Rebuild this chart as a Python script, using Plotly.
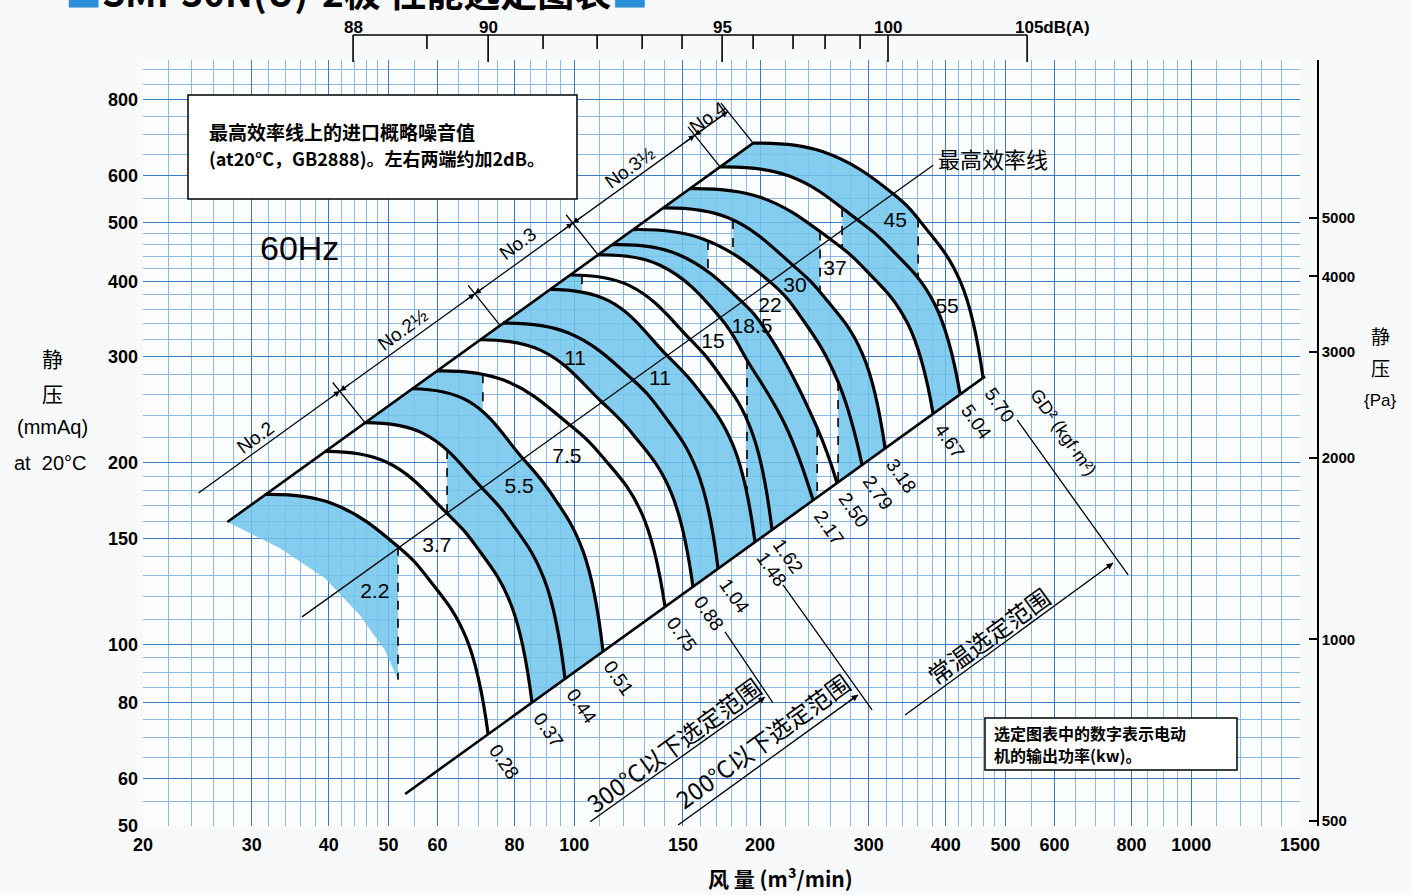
import math
import plotly.graph_objects as go

# ---------------- axes ----------------
X_TICKS = [20, 30, 40, 50, 60, 80, 100, 150, 200, 300, 400, 500, 600, 800, 1000, 1500]
Y_TICKS = [50, 60, 80, 100, 150, 200, 300, 400, 500, 600, 800]
PA_TICKS = [500, 1000, 2000, 3000, 4000, 5000]
X_MIN, X_MAX = 20, 1500
Y_MIN, Y_MAX = 50, 931.6
PA_PER_MMAQ = 9.80665
X_GRID = [20, 22, 24, 26, 28, 30, 32, 34, 36, 38, 40, 42, 44, 46, 48,
          50, 55, 60, 65, 70, 75, 80, 85, 90, 95,
          100, 110, 120, 130, 140, 150, 160, 170, 180, 190,
          200, 220, 240, 260, 280, 300, 320, 340, 360, 380, 400, 420, 440, 460, 480,
          500, 550, 600, 650, 700, 750, 800, 850, 900, 950,
          1000, 1100, 1200, 1300, 1400, 1500]
Y_GRID = [50, 55, 60, 65, 70, 75, 80, 85, 90, 95,
          100, 110, 120, 130, 140, 150, 160, 170, 180, 190,
          200, 220, 240, 260, 280, 300, 320, 340, 360, 380, 400, 420, 440, 460, 480,
          500, 550, 600, 650, 700, 750, 800, 850, 900]

# top noise scale (dB(A)) placed against flow
DB_VALUES = [88, 89, 90, 91, 92, 93, 94, 95, 96, 97, 98, 99, 100, 105]
DB_FLOW = [43.8, 57.7, 72.5, 89.0, 108.9, 128.8, 149.5, 173.6, 194.9, 226.2, 254.9, 290.5, 322.4, 541.8]
DB_MAJOR = [88, 90, 95, 100, 105]
DB_TEXT = ["88", "90", "95", "100", "105dB(A)"]

# ---------------- fan curves (flow m3/min, static pressure mmAq) ----------------
ARC_GD2 = ["0.28", "0.37", "0.44", "0.51", "0.75", "0.88", "1.04", "1.48",
           "1.62", "2.17", "2.50", "2.79", "3.18", "4.67", "5.04", "5.70"]
ARC_Q = [
    [31.5, 40.5, 52.0, 58.4, 66.7, 72.5],
    [39.4, 49.5, 62.2, 69.5, 78.9, 85.4],
    [45.8, 57.0, 70.9, 79.0, 89.4, 96.6],
    [54.6, 67.1, 82.6, 91.7, 103.3, 111.3],
    [59.9, 76.8, 98.4, 111.4, 128.4, 140.3],
    [70.3, 88.3, 110.9, 124.9, 143.1, 155.7],
    [76.6, 97.7, 124.5, 139.2, 158.0, 171.0],
    [91.3, 113.6, 141.4, 158.6, 180.8, 196.3],
    [98.4, 123.1, 154.0, 171.5, 193.7, 209.1],
    [109.3, 137.7, 172.3, 191.3, 219.7, 243.8],
    [115.1, 146.7, 187.0, 207.6, 247.5, 266.6],
    [124.5, 160.8, 207.6, 234.8, 267.6, 292.7],
    [139.3, 177.5, 226.2, 255.1, 292.7, 318.9],
    [154.0, 200.0, 259.7, 297.1, 346.5, 381.5],
    [172.3, 222.5, 287.3, 328.6, 383.3, 422.0],
    [194.9, 253.0, 328.6, 369.6, 422.7, 459.7],
]
ARC_P = [
    [177.3, 171.3, 144.8, 127.4, 102.9, 71.0],
    [209.1, 200.9, 165.0, 145.0, 116.7, 80.1],
    [233.3, 223.7, 181.7, 159.4, 128.2, 87.7],
    [265.5, 253.7, 203.2, 178.0, 142.8, 97.4],
    [284.3, 274.5, 231.1, 204.0, 165.6, 115.4],
    [320.1, 307.4, 252.2, 222.2, 179.9, 124.7],
    [341.1, 328.7, 274.5, 241.2, 194.4, 133.6],
    [388.1, 371.6, 301.3, 265.1, 214.0, 147.9],
    [409.9, 393.3, 320.8, 281.4, 226.2, 154.9],
    [442.8, 425.5, 348.6, 294.1, 231.2, 173.5],
    [460.1, 444.2, 369.8, 323.6, 228.6, 185.3],
    [487.6, 471.3, 399.3, 345.2, 272.5, 198.4],
    [529.5, 510.0, 425.3, 375.0, 304.2, 211.4],
    [570.1, 551.8, 470.4, 417.1, 341.5, 241.3],
    [619.3, 598.6, 506.5, 449.1, 367.7, 259.8],
    [678.2, 656.4, 559.0, 492.6, 399.0, 276.8],
]

# motor limit (dashed) lines: flow position, curve at the top end, curve at the bottom end
DASH_Q = [51.8, 62.2, 71.1, 102.9, 164.7, 180.8, 190.5, 247.5, 267.6, 250.2, 271.6, 360.7]
DASH_TOP_ARC = [1, 3, 5, 9, 12, 13, 10, 11, 12, 14, 15, 16]
DASH_BOT_ARC = [0, 2, 4, 8, 11, 12, 8, 10, 11, 13, 14, 15]

# 2.2 kW region: lower-left edge, from the dashed limit back to the envelope
B22_EDGE_Q = [51.8, 49.3, 44.9, 39.4, 33.3, 27.4]
B22_EDGE_P = [87.4, 97.9, 111.9, 128.9, 144.6, 159.6]

# blue motor zones: band between curves (a, b), bounded left/right by dashed line index
ZONE_BANDS = [(2, 3), (3, 4), (4, 5), (6, 7), (7, 8), (8, 9), (8, 9), (9, 10), (10, 11),
              (11, 12), (11, 12), (12, 13), (13, 14), (14, 15), (15, 16)]
ZONE_LEFT = [1, None, None, None, None, None, 6, 6, None, None, 8, 5, None, 10, None]
ZONE_RIGHT = [None, None, 2, None, None, 3, None, None, 7, 4, None, None, 9, None, 11]
ZONE_KW = ["5.5", "5.5", "5.5", "11", "11", "11", "18.5", "18.5", "18.5", "18.5",
           "30", "30", "30", "45", "45"]

# envelope lines
UPPER_Q = [27.4, 194.9]
UPPER_P = [159.6, 678.2]
LOWER_Q = [53.2, 463.2]
LOWER_P = [56.5, 278.3]
MAXEFF_Q = [36.2, 381.5]
MAXEFF_P = [111.1, 623.5]

# size dimension line
DIM_Q = [24.6, 177.3]
DIM_P = [178.3, 765.0]
DIM_FOOT_Q = [45.8, 75.8, 109.3, 172.3, 194.9]
DIM_FOOT_P = [233.3, 338.3, 442.8, 619.3, 678.2]
DIM_TOP_Q = [40.6, 67.3, 97.0, 152.9, 172.9]
DIM_TOP_P = [271.9, 394.0, 515.9, 721.5, 790.0]
DIM_MARK_Q = [41.7, 69.0, 99.4, 156.8, 177.3]
DIM_MARK_P = [263.2, 381.5, 499.7, 698.8, 765.0]
SIZE_LABELS = ["No.2", "No.2½", "No.3", "No.3½", "No.4"]
SIZE_Q = [30.4, 52.8, 81.1, 123.1, 164.7]
SIZE_P = [220.8, 332.3, 461.6, 617.0, 746.8]

# motor output (kW) labels
KW_LABELS = ["2.2", "3.7", "5.5", "7.5", "11", "11", "15", "18.5", "22", "30", "37", "45", "55"]
KW_Q = [47.5, 59.9, 81.4, 97.3, 100.3, 137.7, 167.8, 194.1, 207.6, 227.9, 264.6, 331.1, 401.9]
KW_P = [121.7, 145.1, 181.8, 203.8, 296.3, 274.5, 316.2, 334.9, 362.8, 391.7, 418.0, 501.9, 361.4]

# selection ranges
RANGE_NAMES = ["300°C以下选定范围", "200°C以下选定范围", "常温选定范围"]
RANGE_EXT_Q = [[175.5, 209.9], [217.9, 303.8], [522.0, 789.8]]
RANGE_EXT_P = [[104.9, 80.0], [125.5, 77.9], [235.7, 130.4]]
RANGE_ARR_Q = [[106.1, 203.8], [147.3, 288.4], [343.6, 746.8]]
RANGE_ARR_P = [[50.8, 81.8], [50.2, 82.5], [76.4, 136.5]]

# ---------------- styling ----------------
W, H = 1412, 895
ML, MR, MT, MB = 143, 94, 35, 69
PW, PH = W - ML - MR, H - MT - MB
X_DOM_END = 1157 / PW
Y_DOM_END = 766 / PH
BLUE = "rgba(112,196,236,0.85)"
GRID_MAJOR = "#3a7bc4"
GRID_MINOR = "#8db8e2"
F_NUM = "Liberation Sans, Arial, sans-serif"
F_CJK = "Noto Sans CJK SC, Liberation Sans, sans-serif"
SMOOTH = 1.2


def lg(v):
    return math.log10(v)


SX = 1157 / (lg(X_MAX) - lg(X_MIN))
SY = 766 / (lg(Y_MAX) - lg(Y_MIN))


def to_xy(q, p):
    return (lg(q) * SX, -lg(p) * SY)


def to_qp(pt):
    return (10 ** (pt[0] / SX), 10 ** (-pt[1] / SY))


# same tangent construction as plotly's spline, so fills follow the drawn curves
def tangent(p0, p1, p2, s):
    d1x, d1y = p0[0] - p1[0], p0[1] - p1[1]
    d2x, d2y = p2[0] - p1[0], p2[1] - p1[1]
    d1a = (d1x * d1x + d1y * d1y) ** 0.25
    d2a = (d2x * d2x + d2y * d2y) ** 0.25
    numx = (d2a * d2a * d1x - d1a * d1a * d2x) * s
    numy = (d2a * d2a * d1y - d1a * d1a * d2y) * s
    den1 = 3 * d2a * (d1a + d2a)
    den2 = 3 * d1a * (d1a + d2a)
    return ((p1[0] + numx / den1, p1[1] + numy / den1),
            (p1[0] - numx / den2, p1[1] - numy / den2))


def curve_path(pts, s, n=30):
    tg = [tangent(pts[i - 1], pts[i], pts[i + 1], s) for i in range(1, len(pts) - 1)]
    segs = [(pts[0], tg[0][0], pts[1])]
    for i in range(2, len(pts) - 1):
        segs.append((pts[i - 1], tg[i - 2][1], tg[i - 1][0], pts[i]))
    segs.append((pts[-2], tg[-1][1], pts[-1]))
    out = [pts[0]]
    for sg in segs:
        for k in range(1, n + 1):
            t = k / n
            u = 1 - t
            if len(sg) == 3:
                a, b, c = sg
                out.append((u * u * a[0] + 2 * u * t * b[0] + t * t * c[0],
                            u * u * a[1] + 2 * u * t * b[1] + t * t * c[1]))
            else:
                a, b, c, d = sg
                out.append((u ** 3 * a[0] + 3 * u * u * t * b[0] + 3 * u * t * t * c[0] + t ** 3 * d[0],
                            u ** 3 * a[1] + 3 * u * u * t * b[1] + 3 * u * t * t * c[1] + t ** 3 * d[1]))
    return out


ARC_PATH = [curve_path([to_xy(q, p) for q, p in zip(ARC_Q[k], ARC_P[k])], SMOOTH)
            for k in range(len(ARC_Q))]


def upper_edge(k):
    return ([ARC_PATH[k - 2][0]] if k >= 2 else []) + ARC_PATH[k - 1]


def lower_edge(k):
    return ARC_PATH[k - 1] + ([ARC_PATH[k][-1]] if k < len(ARC_PATH) else [])


def edge_y(poly, X):
    for i in range(1, len(poly)):
        x0, y0 = poly[i - 1]
        x1, y1 = poly[i]
        if (x0 - X) * (x1 - X) <= 0 and x1 != x0:
            return y0 + (X - x0) / (x1 - x0) * (y1 - y0)
    return min(poly, key=lambda pt: abs(pt[0] - X))[1]


def clip(poly, xl, xr):
    out = []
    for i, (x, y) in enumerate(poly):
        if i > 0:
            x0, y0 = poly[i - 1]
            for xc in (xl, xr):
                if (x0 - xc) * (x - xc) < 0:
                    t = (xc - x0) / (x - x0)
                    out.append((xc, y0 + t * (y - y0)))
        if xl <= x <= xr:
            out.append((x, y))
    return out


def px(x, y):
    return (x - ML) / PW, (H - MB - y) / PH


def flow_to_paper(q):
    return (lg(q) - lg(X_MIN)) / (lg(X_MAX) - lg(X_MIN)) * X_DOM_END


def line(q, p, width=1.3, dash=None, spline=False, color="black"):
    ln = dict(color=color, width=width, dash=dash)
    if spline:
        ln.update(shape="spline", smoothing=SMOOTH)
    return go.Scatter(x=q, y=p, mode="lines", hoverinfo="skip", showlegend=False, line=ln)


def fill_poly(poly):
    qp = [to_qp(pt) for pt in poly]
    return go.Scatter(x=[a for a, _ in qp], y=[b for _, b in qp], mode="lines", fill="toself",
                      fillcolor=BLUE, line=dict(width=0), hoverinfo="skip", showlegend=False)


fig = go.Figure()

# 2.2 kW zone
xd1 = lg(DASH_Q[0]) * SX
edge = [to_xy(q, p) for q, p in zip(B22_EDGE_Q, B22_EDGE_P)]
fig.add_trace(fill_poly([edge[-1]] + clip(ARC_PATH[0], -1e9, xd1) + edge))

# other blue motor zones
for (a, b), li, ri in zip(ZONE_BANDS, ZONE_LEFT, ZONE_RIGHT):
    xl = lg(DASH_Q[li]) * SX if li is not None else -1e9
    xr = lg(DASH_Q[ri]) * SX if ri is not None else 1e9
    up = clip(upper_edge(b), xl, xr)
    lo = clip(lower_edge(a), xl, xr)
    poly = up + lo[::-1]
    fig.add_trace(fill_poly(poly + [poly[0]]))

# dashed motor limits
dq, dp = [], []
for i, q in enumerate(DASH_Q):
    X = lg(q) * SX
    ptop = to_qp((X, edge_y(upper_edge(DASH_TOP_ARC[i]), X)))[1]
    if DASH_BOT_ARC[i] == 0:
        pbot = B22_EDGE_P[0]
    else:
        pbot = to_qp((X, edge_y(lower_edge(DASH_BOT_ARC[i]), X)))[1]
    dq += [q, q, None]
    dp += [ptop, pbot, None]
fig.add_trace(line(dq, dp, width=1.6, dash="dash"))

# envelope lines
fig.add_trace(line(UPPER_Q, UPPER_P, width=2.6))
fig.add_trace(line(LOWER_Q, LOWER_P, width=2.6))
fig.add_trace(line(MAXEFF_Q, MAXEFF_P, width=1.3))
fig.add_trace(line(DIM_Q, DIM_P, width=1.3))
tq, tp = [], []
for fq, fp, uq, upp in zip(DIM_FOOT_Q, DIM_FOOT_P, DIM_TOP_Q, DIM_TOP_P):
    tq += [fq, uq, None]
    tp += [fp, upp, None]
fig.add_trace(line(tq, tp, width=1.3))
for k in range(3):
    fig.add_trace(line(RANGE_EXT_Q[k], RANGE_EXT_P[k], width=1.3))
    fig.add_trace(line(RANGE_ARR_Q[k], RANGE_ARR_P[k], width=1.3))

# fan curves
for k in range(len(ARC_Q)):
    fig.add_trace(line(ARC_Q[k], ARC_P[k], width=3.2, spline=True))

# kW labels
fig.add_trace(go.Scatter(x=KW_Q, y=KW_P, mode="text", text=KW_LABELS, hoverinfo="skip",
                         showlegend=False, cliponaxis=False,
                         textfont=dict(family=F_NUM, size=21, color="black")))

# invisible trace for the Pa axis
fig.add_trace(go.Scatter(x=[X_MIN], y=[Y_MIN * PA_PER_MMAQ], yaxis="y2", mode="markers",
                         marker=dict(opacity=0), hoverinfo="skip", showlegend=False))

ann = []
# GD2 labels
for k in range(len(ARC_Q)):
    ann.append(dict(x=lg(ARC_Q[k][-1]), y=lg(ARC_P[k][-1]), xref="x", yref="y",
                    text=ARC_GD2[k], showarrow=False, textangle=55, xshift=16, yshift=-27,
                    font=dict(family=F_NUM, size=19, color="black")))
# size labels
for k in range(len(SIZE_LABELS)):
    ann.append(dict(x=lg(SIZE_Q[k]), y=lg(SIZE_P[k]), xref="x", yref="y",
                    text=SIZE_LABELS[k], showarrow=False, textangle=-36,
                    font=dict(family=F_NUM, size=19, color="black")))
# dimension arrowheads
AR = 13
adx, ady = 0.811 * AR, 0.584 * AR
for k in range(len(DIM_MARK_Q)):
    base = dict(x=lg(DIM_MARK_Q[k]), y=lg(DIM_MARK_P[k]), xref="x", yref="y", text="",
                showarrow=True, arrowhead=2, arrowsize=1, arrowwidth=1.2, arrowcolor="black")
    ann.append(dict(base, ax=-adx, ay=ady))
    if k < len(DIM_MARK_Q) - 1:
        ann.append(dict(base, ax=adx, ay=-ady))
# range arrowheads
for k in range(3):
    ann.append(dict(x=lg(RANGE_ARR_Q[k][1]), y=lg(RANGE_ARR_P[k][1]), xref="x", yref="y", text="",
                    showarrow=True, arrowhead=2, arrowsize=1, arrowwidth=1.3, arrowcolor="black",
                    ax=-adx, ay=ady))


def ptext(x, y, text, size, family=F_CJK, angle=0, xanchor="center", yanchor="middle", color="black"):
    xp, yp = px(x, y)
    ann.append(dict(x=xp, y=yp, xref="paper", yref="paper", text=text, showarrow=False,
                    textangle=angle, xanchor=xanchor, yanchor=yanchor,
                    font=dict(family=family, size=size, color=color)))


ptext(673, 744, RANGE_NAMES[0], 24, angle=-36)
ptext(762, 740, RANGE_NAMES[1], 24, angle=-36)
ptext(988, 635, RANGE_NAMES[2], 24, angle=-36)
ptext(1063, 432, "GD² (kgf·m²)", 18, family=F_NUM, angle=55)
ptext(299, 248, "60Hz", 34, family=F_NUM)
ptext(936, 158, "最高效率线", 22, xanchor="left")
ptext(207, 131, "<b>最高效率线上的进口概略噪音值</b>", 19, xanchor="left")
ptext(207, 158, "<b>(at20°C，GB2888)。左右两端约加2dB。</b>", 18, xanchor="left")
ptext(992, 733, "<b>选定图表中的数字表示电动</b>", 16, xanchor="left")
ptext(992, 755, "<b>机的输出功率(kw)。</b>", 16, xanchor="left")
ptext(52, 358, "静", 21)
ptext(52, 393, "压", 21)
ptext(52, 427, "(mmAq)", 20, family=F_NUM)
ptext(50, 463, "at  20°C", 20, family=F_NUM)
ptext(1380, 335, "静", 19)
ptext(1380, 368, "压", 19)
ptext(1380, 400, "{Pa}", 17, family=F_NUM)
ptext(780, 878, "<b>风 量 (m³/min)</b>", 21)
ptext(63, 20, '<span style="color:#2a8fd6">■</span><b>SMP30N(U)-2极 性能选定图表</b>'
              '<span style="color:#2a8fd6">■</span>', 37, xanchor="left", yanchor="bottom")

# top dB scale
shapes = []
yl = 1.0
y_major = px(0, 62)[1]
y_minor = px(0, 49)[1]
shapes.append(dict(type="line", xref="paper", yref="paper", x0=flow_to_paper(DB_FLOW[0]),
                   x1=flow_to_paper(DB_FLOW[-1]), y0=yl, y1=yl, line=dict(color="black", width=1.6)))
for v, q in zip(DB_VALUES, DB_FLOW):
    xp = flow_to_paper(q)
    shapes.append(dict(type="line", xref="paper", yref="paper", x0=xp, x1=xp, y0=yl,
                       y1=y_major if v in DB_MAJOR else y_minor, line=dict(color="black", width=1.6)))
for v, t in zip(DB_MAJOR, DB_TEXT):
    q = DB_FLOW[DB_VALUES.index(v)]
    ann.append(dict(x=flow_to_paper(q), y=px(0, 27)[1], xref="paper", yref="paper", text=t,
                    showarrow=False, xanchor="left" if len(t) > 3 else "center",
                    yanchor="middle", xshift=-14 if len(t) > 3 else 0,
                    font=dict(family=F_NUM, size=17, color="black", weight="bold")))

# note boxes
b1a, b1b = px(188, 199), px(577, 95)
shapes.append(dict(type="rect", xref="paper", yref="paper", x0=b1a[0], y0=b1a[1], x1=b1b[0], y1=b1b[1],
                   fillcolor="white", line=dict(color="black", width=1.5)))
b2a, b2b = px(985, 770), px(1237, 718)
shapes.append(dict(type="rect", xref="paper", yref="paper", x0=b2a[0], y0=b2a[1], x1=b2b[0], y1=b2b[1],
                   fillcolor="white", line=dict(color="black", width=1.5)))

tickfont = dict(family=F_NUM, size=18, color="black", weight="bold")
fig.update_layout(
    width=W, height=H, margin=dict(l=ML, r=MR, t=MT, b=MB),
    paper_bgcolor="#f8f9fa", plot_bgcolor="#fcfdfe", showlegend=False,
    xaxis=dict(type="log", range=[lg(X_MIN), lg(X_MAX)], domain=[0, X_DOM_END],
               tickvals=X_TICKS, ticktext=[str(v) for v in X_TICKS], ticks="",
               ticklabelstandoff=6,
               showgrid=True, gridcolor=GRID_MAJOR, gridwidth=1.4, zeroline=False,
               tickfont=tickfont,
               minor=dict(tickmode="array", tickvals=X_GRID, showgrid=True,
                          gridcolor=GRID_MINOR, gridwidth=0.8, ticks="")),
    yaxis=dict(type="log", range=[lg(Y_MIN), lg(Y_MAX)], domain=[0, Y_DOM_END],
               tickvals=Y_TICKS, ticktext=[str(v) for v in Y_TICKS], ticks="",
               ticklabelstandoff=4,
               showgrid=True, gridcolor=GRID_MAJOR, gridwidth=1.4, zeroline=False,
               tickfont=tickfont,
               minor=dict(tickmode="array", tickvals=Y_GRID, showgrid=True,
                          gridcolor=GRID_MINOR, gridwidth=0.8, ticks="")),
    yaxis2=dict(type="log", overlaying="y", side="right", anchor="free", position=1.0,
                range=[lg(Y_MIN * PA_PER_MMAQ), lg(Y_MAX * PA_PER_MMAQ)], domain=[0, Y_DOM_END],
                tickvals=PA_TICKS, ticktext=[str(v) for v in PA_TICKS], ticks="inside",
                ticklen=8, tickwidth=1.5, tickcolor="black", showline=True, linecolor="black",
                linewidth=1.5, showgrid=False, zeroline=False,
                tickfont=dict(family=F_NUM, size=15, color="black", weight="bold")),
    annotations=ann, shapes=shapes,
)

fig.write_html("out.html", config={"displayModeBar": False},
               post_script="document.body.style.margin='0';")
